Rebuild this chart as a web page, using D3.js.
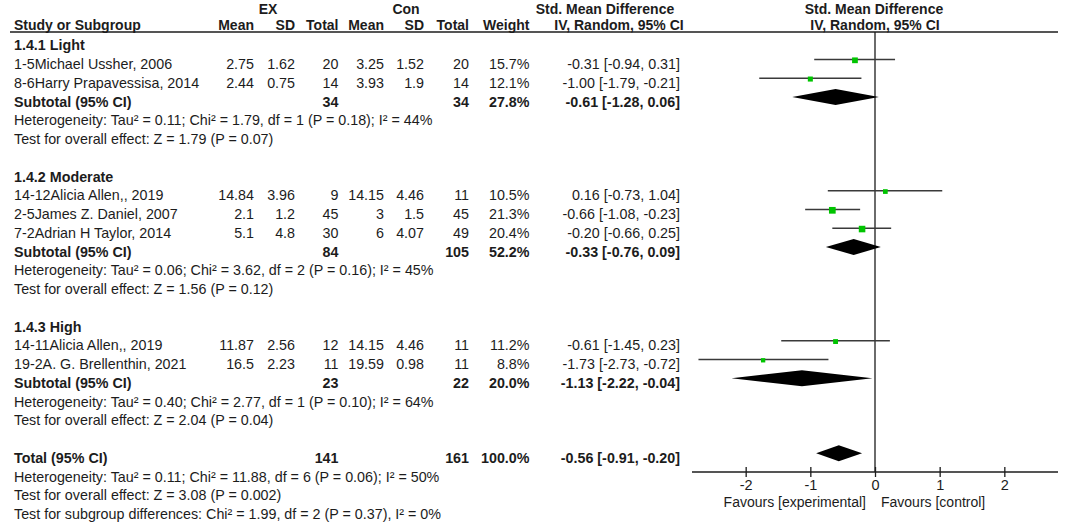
<!DOCTYPE html>
<html>
<head>
<meta charset="utf-8">
<script src="https://cdn.jsdelivr.net/npm/d3@7/dist/d3.min.js"></script>
<style>
  html, body { margin: 0; padding: 0; background: #fff; }
  svg { display: block; }
  text { font-family: "Liberation Sans", Arial, Helvetica, sans-serif; fill: #1c1c1c; }
</style>
</head>
<body>
<svg id="chart" width="1072" height="524"></svg>
<script>
// ---------- Data ----------
const groupNames = ["1.4.1 Light", "1.4.2 Moderate", "1.4.3 High"];
const studyNames = [
  "1-5Michael Ussher, 2006", "8-6Harry Prapavessisa, 2014",
  "14-12Alicia Allen,, 2019", "2-5James Z. Daniel, 2007", "7-2Adrian H Taylor, 2014",
  "14-11Alicia Allen,, 2019", "19-2A. G. Brellenthin, 2021"
];
const studyGroup = [0, 0, 1, 1, 1, 2, 2];
const exMean  = [2.75, 2.44, 14.84, 2.1, 5.1, 11.87, 16.5];
const exSD    = [1.62, 0.75, 3.96, 1.2, 4.8, 2.56, 2.23];
const exN     = [20, 14, 9, 45, 30, 12, 11];
const conMean = [3.25, 3.93, 14.15, 3, 6, 14.15, 19.59];
const conSD   = [1.52, 1.9, 4.46, 1.5, 4.07, 4.46, 0.98];
const conN    = [20, 14, 11, 45, 49, 11, 11];
const studyWeight = [15.7, 12.1, 10.5, 21.3, 20.4, 11.2, 8.8];
const studySMD = [-0.31, -1.00, 0.16, -0.66, -0.20, -0.61, -1.73];
const studyLo  = [-0.94, -1.79, -0.73, -1.08, -0.66, -1.45, -2.73];
const studyHi  = [0.31, -0.21, 1.04, -0.23, 0.25, 0.23, -0.72];

const subExN   = [34, 84, 23];
const subConN  = [34, 105, 22];
const subWeight = [27.8, 52.2, 20.0];
const subSMD = [-0.61, -0.33, -1.13];
const subLo  = [-1.28, -0.76, -2.22];
const subHi  = [0.06, 0.09, -0.04];
const subHet = [
  "Heterogeneity: Tau² = 0.11; Chi² = 1.79, df = 1 (P = 0.18); I² = 44%",
  "Heterogeneity: Tau² = 0.06; Chi² = 3.62, df = 2 (P = 0.16); I² = 45%",
  "Heterogeneity: Tau² = 0.40; Chi² = 2.77, df = 1 (P = 0.10); I² = 64%"
];
const subTest = [
  "Test for overall effect: Z = 1.79 (P = 0.07)",
  "Test for overall effect: Z = 1.56 (P = 0.12)",
  "Test for overall effect: Z = 2.04 (P = 0.04)"
];

const totalExN = 141, totalConN = 161, totalWeight = 100.0;
const totalSMD = -0.56, totalLo = -0.91, totalHi = -0.20;
const totalNotes = [
  "Heterogeneity: Tau² = 0.11; Chi² = 11.88, df = 6 (P = 0.06); I² = 50%",
  "Test for overall effect: Z = 3.08 (P = 0.002)",
  "Test for subgroup differences: Chi² = 1.99, df = 2 (P = 0.37), I² = 0%"
];

const axisTicks = [-2, -1, 0, 1, 2];
const axisDomain = [-2.83, 2.83];
const favoursLabels = ["Favours [experimental]", "Favours [control]"];

// ---------- Layout ----------
const svg = d3.select("#chart");
const FS = 14.3;
const loc = d3.formatLocale({ decimal: ".", thousands: ",", grouping: [3], currency: ["", ""], minus: "-" });
const x = d3.scaleLinear().domain(axisDomain).range([692, 1058]);
const rowY = d3.scaleLinear().domain([1, 22]).range([59.5, 453.25]);
const base = i => rowY(i) + 9.5;
const sq = d3.scaleSqrt().domain([0, 21.3]).range([0, 6.7]);
const f1 = loc.format(".1f"), f2 = loc.format(".2f"), fd = loc.format("d");
const num = v => String(v);
const ci = (e, l, h) => `${f2(e)} [${f2(l)}, ${f2(h)}]`;

const col = { label: 14, exMean: 254, exSD: 295, exN: 338.5, conMean: 384, conSD: 424, conN: 469, weight: 529.5, ci: 680 };

function txt(xp, yp, s, opts = {}) {
  return svg.append("text")
    .attr("x", xp).attr("y", yp)
    .attr("font-size", opts.size || FS)
    .attr("font-weight", opts.bold ? "bold" : "normal")
    .attr("text-anchor", opts.anchor || "start")
    .text(s);
}

// ---------- Header ----------
const h1 = 13.5, h2 = 29.5;
const HS = 14;
txt(268, h1, "EX", { bold: true, anchor: "middle", size: HS });
txt(406, h1, "Con", { bold: true, anchor: "middle", size: HS });
txt(605, h1, "Std. Mean Difference", { bold: true, anchor: "middle", size: HS });
txt(874, h1, "Std. Mean Difference", { bold: true, anchor: "middle", size: HS });
txt(col.label, h2, "Study or Subgroup", { bold: true, size: HS });
txt(col.exMean, h2, "Mean", { bold: true, anchor: "end", size: HS });
txt(col.exSD, h2, "SD", { bold: true, anchor: "end", size: HS });
txt(col.exN, h2, "Total", { bold: true, anchor: "end", size: HS });
txt(col.conMean, h2, "Mean", { bold: true, anchor: "end", size: HS });
txt(col.conSD, h2, "SD", { bold: true, anchor: "end", size: HS });
txt(col.conN, h2, "Total", { bold: true, anchor: "end", size: HS });
txt(col.weight, h2, "Weight", { bold: true, anchor: "end", size: HS });
txt(619, h2, "IV, Random, 95% CI", { bold: true, anchor: "middle", size: HS });
txt(875, h2, "IV, Random, 95% CI", { bold: true, anchor: "middle", size: HS });

svg.append("line").attr("x1", 10).attr("x2", 1058).attr("y1", 32).attr("y2", 32)
  .attr("stroke", "#1c1c1c").attr("stroke-width", 1.3);

// ---------- Rows ----------
const groupStart = [0, 7, 15];
const diamondH = 8;

// zero line
svg.append("line").attr("x1", x(0)).attr("x2", x(0)).attr("y1", 32).attr("y2", 472)
  .attr("stroke", "#1c1c1c").attr("stroke-width", 1.3);

groupNames.forEach((g, gi) => {
  const r0 = groupStart[gi];
  txt(col.label, base(r0), g, { bold: true });
  const idx = studyGroup.map((s, i) => s === gi ? i : -1).filter(i => i >= 0);
  idx.forEach((si, k) => {
    const r = r0 + 1 + k, yb = base(r), ym = rowY(r);
    txt(col.label, yb, studyNames[si]);
    txt(col.exMean, yb, num(exMean[si]), { anchor: "end" });
    txt(col.exSD, yb, num(exSD[si]), { anchor: "end" });
    txt(col.exN, yb, exN[si], { anchor: "end" });
    txt(col.conMean, yb, num(conMean[si]), { anchor: "end" });
    txt(col.conSD, yb, num(conSD[si]), { anchor: "end" });
    txt(col.conN, yb, conN[si], { anchor: "end" });
    txt(col.weight, yb, f1(studyWeight[si]) + "%", { anchor: "end" });
    txt(col.ci, yb, ci(studySMD[si], studyLo[si], studyHi[si]), { anchor: "end" });
    svg.append("line")
      .attr("x1", x(studyLo[si])).attr("x2", x(studyHi[si]))
      .attr("y1", ym).attr("y2", ym)
      .attr("stroke", "#3a3a3a").attr("stroke-width", 1.3);
    const s = sq(studyWeight[si]);
    svg.append("rect")
      .attr("x", x(studySMD[si]) - s / 2).attr("y", ym - s / 2 + 0.8)
      .attr("width", s).attr("height", s)
      .attr("fill", "#00c400");
  });
  const rs = r0 + 1 + idx.length, ys = base(rs), yms = rowY(rs);
  txt(col.label, ys, "Subtotal (95% CI)", { bold: true });
  txt(col.exN, ys, subExN[gi], { bold: true, anchor: "end" });
  txt(col.conN, ys, subConN[gi], { bold: true, anchor: "end" });
  txt(col.weight, ys, f1(subWeight[gi]) + "%", { bold: true, anchor: "end" });
  txt(col.ci, ys, ci(subSMD[gi], subLo[gi], subHi[gi]), { bold: true, anchor: "end" });
  svg.append("path")
    .attr("d", d3.line()([[x(subLo[gi]), yms], [x(subSMD[gi]), yms - diamondH], [x(subHi[gi]), yms], [x(subSMD[gi]), yms + diamondH]]) + "Z")
    .attr("fill", "#000");
  txt(col.label, base(rs + 1), subHet[gi]);
  txt(col.label, base(rs + 2), subTest[gi]);
});

// Total
const rt = 22, yt = base(rt), ymt = rowY(rt);
txt(col.label, yt, "Total (95% CI)", { bold: true });
txt(col.exN, yt, totalExN, { bold: true, anchor: "end" });
txt(col.conN, yt, totalConN, { bold: true, anchor: "end" });
txt(col.weight, yt, f1(totalWeight) + "%", { bold: true, anchor: "end" });
txt(col.ci, yt, ci(totalSMD, totalLo, totalHi), { bold: true, anchor: "end" });
svg.append("path")
  .attr("d", d3.line()([[x(totalLo), ymt], [x(totalSMD), ymt - diamondH], [x(totalHi), ymt], [x(totalSMD), ymt + diamondH]]) + "Z")
  .attr("fill", "#000");
totalNotes.forEach((t, k) => txt(col.label, base(rt + 1 + k), t));

// ---------- Axis ----------
const axisY = 472;
svg.append("line").attr("x1", x.range()[0]).attr("x2", x.range()[1])
  .attr("y1", axisY).attr("y2", axisY).attr("stroke", "#1c1c1c").attr("stroke-width", 1.3);
const ax = svg.append("g").attr("transform", `translate(0,${axisY - 5})`)
  .call(d3.axisBottom(x).tickValues(axisTicks).tickSize(10).tickPadding(3).tickFormat(fd));
ax.select(".domain").remove();
ax.selectAll(".tick line").attr("stroke", "#1c1c1c").attr("stroke-width", 1.3);
ax.selectAll(".tick text").attr("font-size", 14.5)
  .attr("font-family", "'Liberation Sans', Arial, sans-serif").attr("fill", "#1c1c1c");

txt(x(0) - 9, 507, favoursLabels[0], { anchor: "end", size: 14 });
txt(x(0) + 6, 507, favoursLabels[1], { size: 14 });
</script>
</body>
</html>
